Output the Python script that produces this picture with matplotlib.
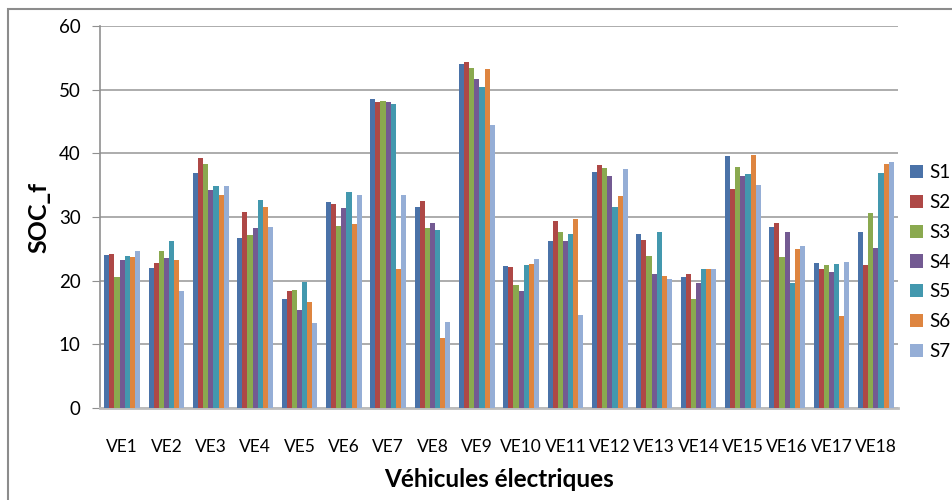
import matplotlib
matplotlib.use("Agg")
import matplotlib.pyplot as plt
import numpy as np
from matplotlib.patches import Rectangle

vehicles = [f"VE{i}" for i in range(1, 19)]
series_names = ["S1", "S2", "S3", "S4", "S5", "S6", "S7"]

s1 = [24.1, 22.0, 36.9, 26.7, 17.1, 32.3, 48.5, 31.5, 54.0, 22.3, 26.2, 37.0, 27.3, 20.6, 39.6, 28.4, 22.8, 27.6]
s2 = [24.2, 22.8, 39.2, 30.8, 18.4, 32.0, 48.1, 32.5, 54.3, 22.1, 29.3, 38.1, 26.4, 21.1, 34.4, 29.0, 21.9, 22.4]
s3 = [20.6, 24.6, 38.3, 27.1, 18.5, 28.6, 48.2, 28.2, 53.4, 19.3, 27.6, 37.7, 23.8, 17.1, 37.9, 23.7, 22.5, 30.6]
s4 = [23.3, 23.5, 34.2, 28.3, 15.4, 31.4, 48.0, 29.1, 51.6, 18.3, 26.3, 36.4, 21.0, 19.7, 36.4, 27.7, 21.3, 25.1]
s5 = [23.8, 26.2, 34.8, 32.7, 19.8, 33.9, 47.7, 27.9, 50.4, 22.5, 27.4, 31.5, 27.6, 21.9, 36.7, 19.7, 22.6, 36.9]
s6 = [23.7, 23.3, 33.5, 31.5, 16.6, 28.9, 21.8, 11.0, 53.2, 22.6, 29.7, 33.3, 20.8, 21.8, 39.7, 25.0, 14.5, 38.4]
s7 = [24.6, 18.3, 34.8, 28.5, 13.3, 33.5, 33.5, 13.5, 44.5, 23.4, 14.6, 37.5, 20.3, 21.9, 35.0, 25.5, 22.9, 38.7]

series = [s1, s2, s3, s4, s5, s6, s7]
colors = ["#4A72A8", "#AE4846", "#8AA94F", "#735A92", "#4398AE", "#DE8540", "#95AED6"]

plt.rcParams["font.family"] = ["Lato", "DejaVu Sans"]

fig = plt.figure(figsize=(9.52, 5.0), dpi=100)
ax = fig.add_axes([100 / 952, 1 - 408 / 500, 798 / 952, 382 / 500])

x = np.arange(len(vehicles))
n = len(series)
group = 0.81
w = group / n
for k, (vals, col, name) in enumerate(zip(series, colors, series_names)):
    offs = -group / 2 + w * (k + 0.5)
    ax.bar(x + offs, vals, width=w, color=col, label=name, zorder=3, linewidth=0)

ax.set_xlim(-0.5, len(vehicles) - 0.5)
ax.set_ylim(0, 60)
ax.set_yticks(np.arange(0, 61, 10))
ax.set_xticks(x)
ax.set_xticklabels(vehicles, fontsize=12.5)
ax.tick_params(axis="x", length=0, pad=22)
ax.tick_params(axis="y", length=6, color="#909090", labelsize=13.5, pad=8, direction="out")

ax.grid(axis="y", color="#a6a6a6", linewidth=1.3, zorder=0)
ax.set_axisbelow(True)
for side in ("top", "right"):
    ax.spines[side].set_visible(False)
ax.spines["left"].set_color("#909090")
ax.spines["left"].set_linewidth(1.2)
ax.spines["bottom"].set_color("#bdbdbd")
ax.spines["bottom"].set_linewidth(2.0)

ax.set_ylabel("SOC_f", fontsize=18, fontweight="bold", labelpad=6)
ax.set_xlabel("Véhicules électriques", fontsize=17.5, fontweight="bold", labelpad=10)

leg = fig.legend(loc="center left", bbox_to_anchor=(910 / 952, 1 - 262 / 500),
                 frameon=False, fontsize=13.5, handlelength=0.7, handleheight=0.7,
                 handletextpad=0.35, labelspacing=0.68, borderaxespad=0, borderpad=0)

# outer chart border
fig.patches.append(Rectangle((8 / 952, -0.1), 1.2, 1.1 - 9 / 500,
                             transform=fig.transFigure, fill=False,
                             edgecolor="#8c8c8c", linewidth=1.5))

fig.savefig("out.png", dpi=100)
